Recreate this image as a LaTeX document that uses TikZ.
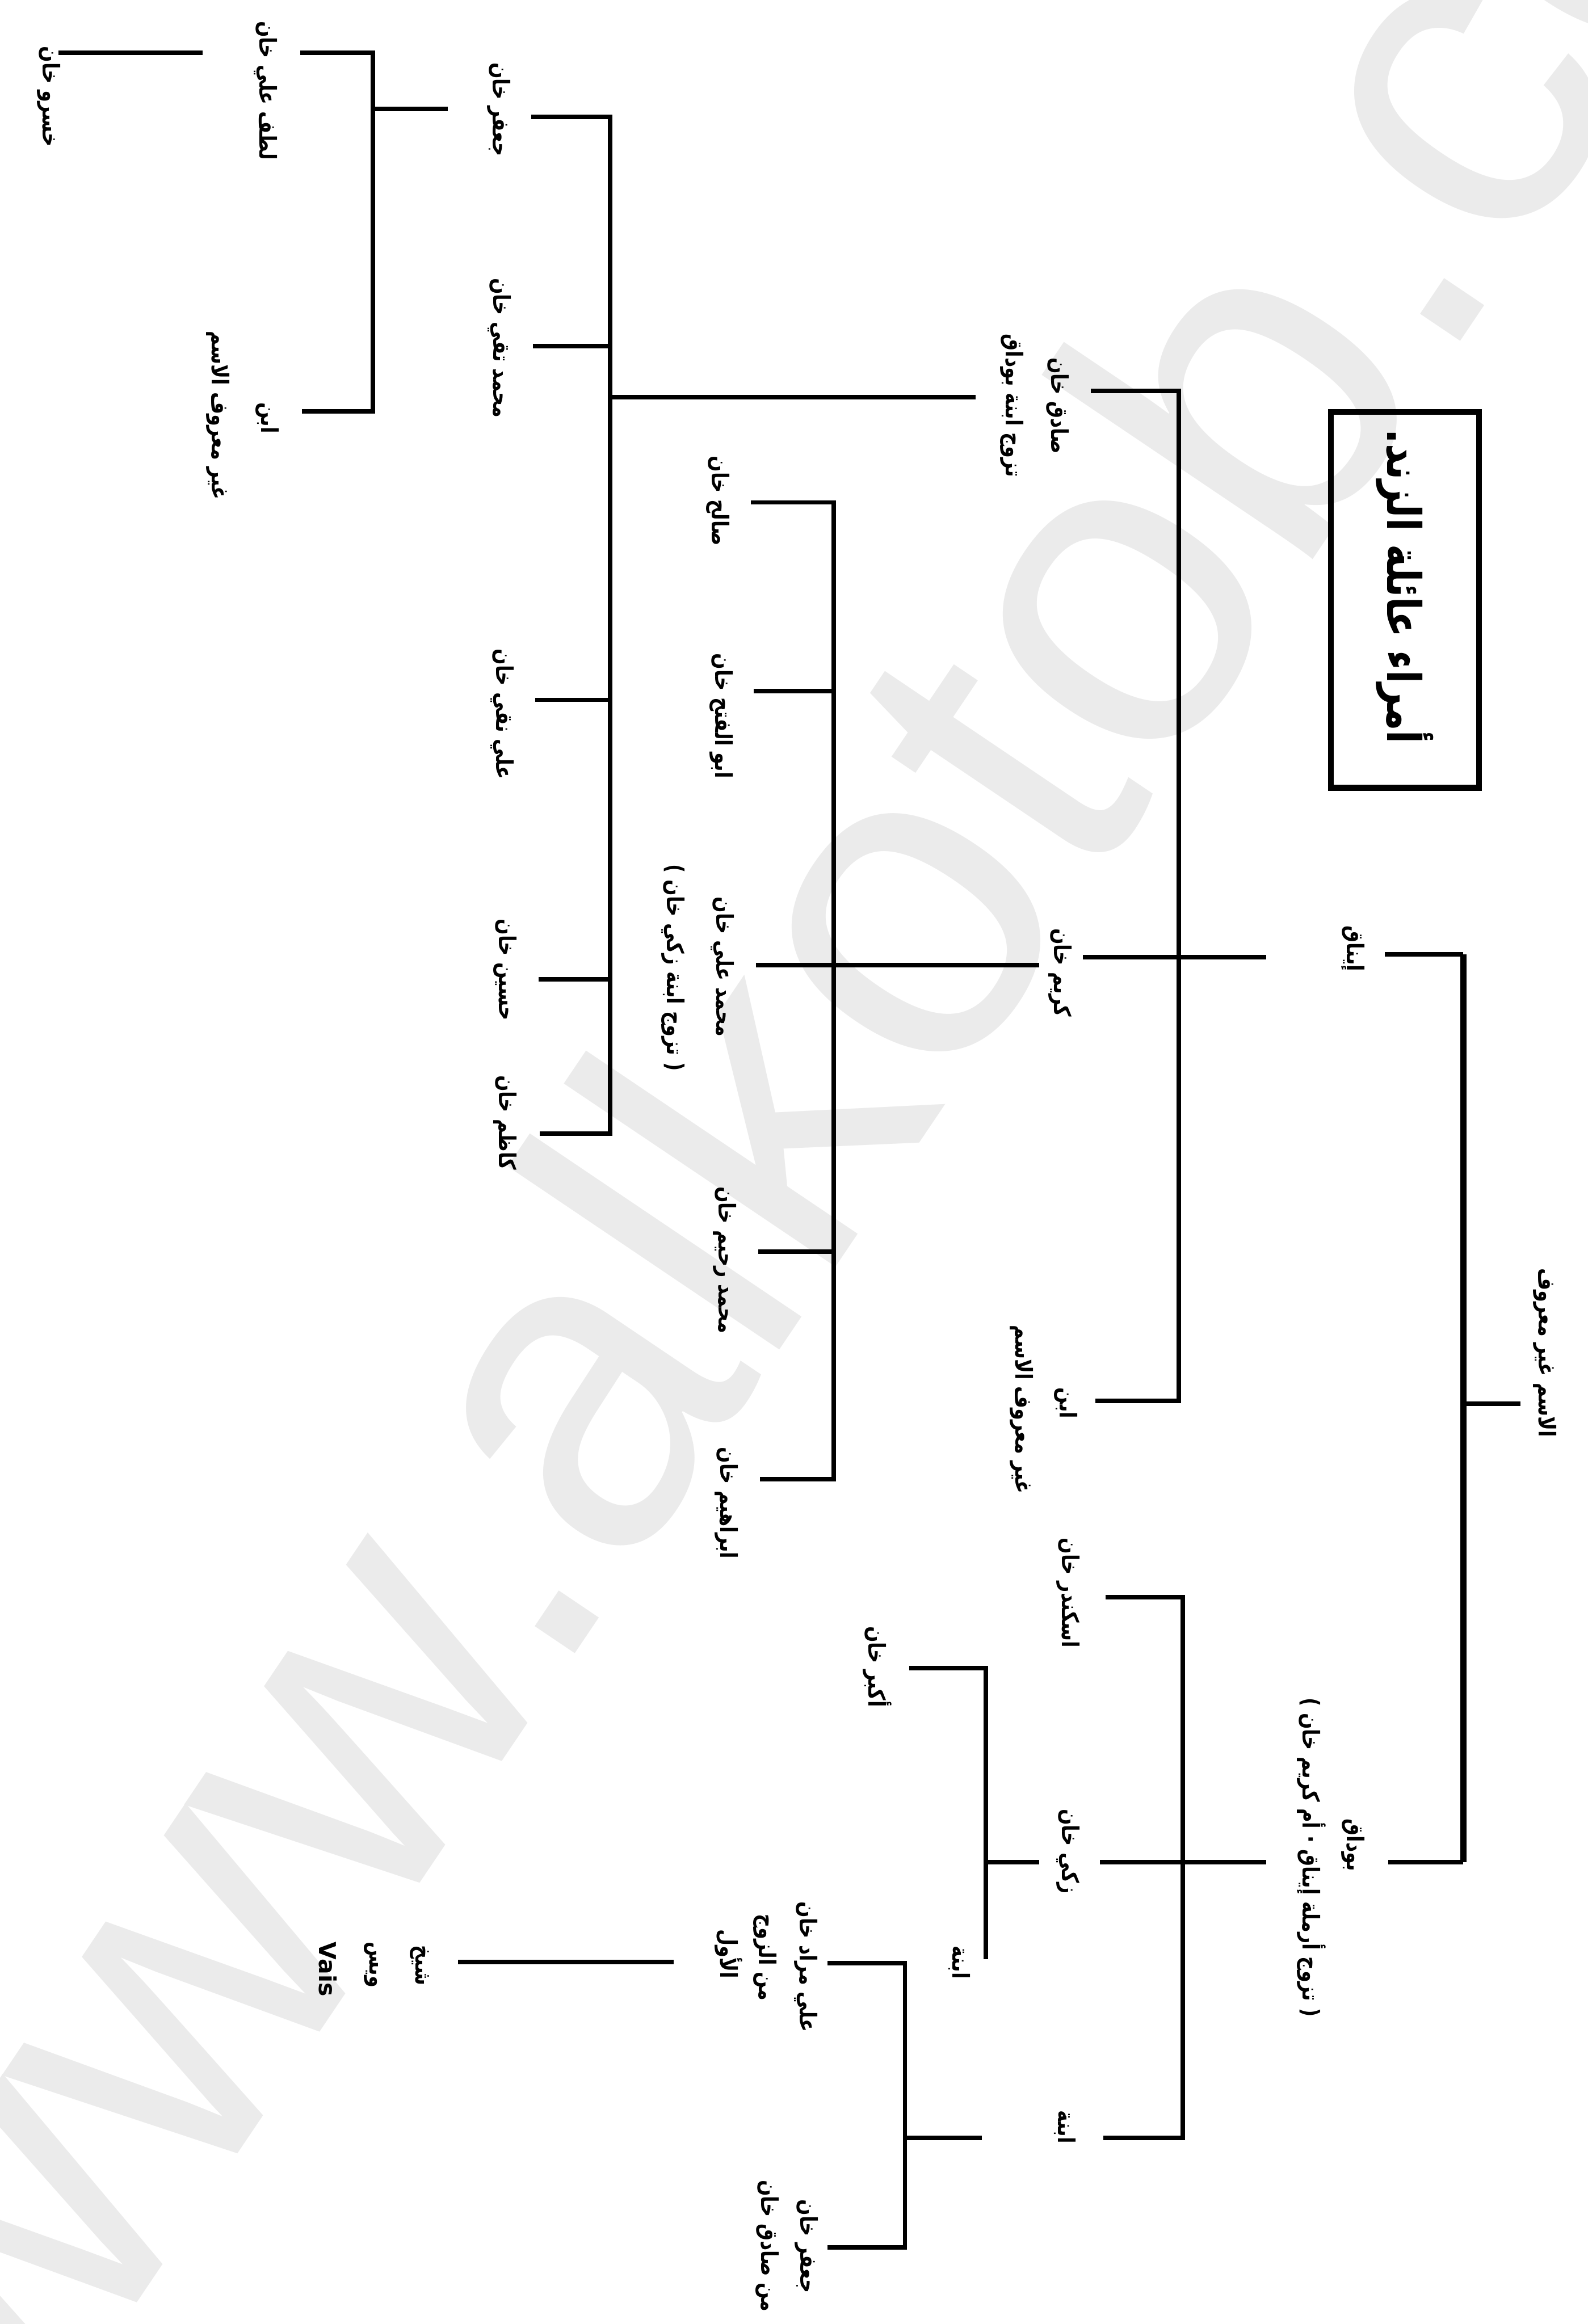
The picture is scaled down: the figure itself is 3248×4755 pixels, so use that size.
\documentclass[tikz,border=0pt]{standalone}
\usepackage{fontspec}
\setmainfont{DejaVu Sans}
\newfontfamily\arabicfont[Script=Arabic, FakeStretch=0.82]{DejaVu Sans}
\newfontfamily\wmfont{Liberation Sans}
\TeXXeTstate=1
\newcommand{\arx}[1]{\beginR #1\endR}
\begin{document}
\begin{tikzpicture}[x=0.2pt,y=-0.2pt,
  ln/.style={line width=1.8pt, line cap=butt, line join=miter},
  thk/.style={line width=2.5pt, line cap=butt, line join=miter},
  lab/.style={rotate=-90, inner sep=0pt, font=\arabicfont\bfseries\fontsize{9.5}{11}\selectfont},
  ttl/.style={rotate=-90, inner sep=0pt, font=\arabicfont\bfseries\fontsize{19}{22}\selectfont},
  wm/.style={rotate=56, anchor=base west, inner sep=0pt, text=black!8, font=\wmfont\fontsize{185}{190}\selectfont}]
\useasboundingbox (0,0) rectangle (3248,4755);
\fill[white] (0,0) rectangle (3248,4755);
% watermark
\begin{scope}
\clip (0,0) rectangle (3248,4755);
\node[wm] (watermark) at (36,5073) {www.alkotob.com};
\end{scope}

% ---------- bars ----------
\coordinate (jbT) at (763,108);   \coordinate (jbB) at (763,842);
\coordinate (sbT) at (1248,239);  \coordinate (sbB) at (1248,2319);
\coordinate (kbT) at (1705,1028); \coordinate (kbB) at (1705,3026);
\coordinate (ibT) at (2411,800);  \coordinate (ibB) at (2411,2866);
\coordinate (rbT) at (2993,1953); \coordinate (rbB) at (2993,3810);
\coordinate (bbT) at (2419,3268); \coordinate (bbB) at (2419,4374);
\coordinate (zbT) at (2016,3413); \coordinate (zbB) at (2016,4009);
\coordinate (dbT) at (1851,4017); \coordinate (dbB) at (1851,4598);

% ---------- line ends ----------
\coordinate (e1a) at (120,108);   \coordinate (e1b) at (415,108);
\coordinate (e2) at (614,108);
\coordinate (e3) at (618,842);
\coordinate (e4) at (916,223);
\coordinate (e5) at (1086,239);
\coordinate (e6) at (1090,708);
\coordinate (e7) at (1095,1432);
\coordinate (e8) at (1102,2004);
\coordinate (e9) at (1104,2319);
\coordinate (e10) at (1995,813);
\coordinate (e11) at (2231,800);
\coordinate (e12) at (1536,1028);
\coordinate (e13) at (1542,1414);
\coordinate (e14a) at (1546,1975); \coordinate (e14b) at (2125,1975);
\coordinate (e15) at (1551,2561);
\coordinate (e16) at (1554,3026);
\coordinate (e17a) at (2215,1958); \coordinate (e17b) at (2590,1958);
\coordinate (e18) at (2833,1953);
\coordinate (e19) at (2240,2866);
\coordinate (e20) at (3110,2872);
\coordinate (e21) at (2839,3810);
\coordinate (e22a) at (2250,3810); \coordinate (e22b) at (2590,3810);
\coordinate (e23) at (2261,3268);
\coordinate (e24) at (2125,3810);
\coordinate (e25) at (1860,3413);
\coordinate (e26a) at (2257,4374); \coordinate (e26b) at (2008,4374);
\coordinate (e27) at (1693,4017);
\coordinate (e28) at (1693,4598);
\coordinate (e29a) at (937,4014); \coordinate (e29b) at (1378,4014);

% ---------- connectors ----------
\draw[ln] (e1a) -- (e1b);
\draw[ln] (e2) -- (jbT) -- (jbB) -- (e3);
\draw[ln] (e4 -| jbT) -- (e4);
\draw[ln] (e5) -- (sbT) -- (sbB) -- (e9);
\draw[ln] (e6) -- (e6 -| sbT);
\draw[ln] (e7) -- (e7 -| sbT);
\draw[ln] (e8) -- (e8 -| sbT);
\draw[ln] (e10 -| sbT) -- (e10);
\draw[ln] (e11) -- (ibT) -- (ibB) -- (e19);
\draw[ln] (e12) -- (kbT) -- (kbB) -- (e16);
\draw[ln] (e13) -- (e13 -| kbT);
\draw[ln] (e14a) -- (e14b);
\draw[ln] (e15) -- (e15 -| kbT);
\draw[ln] (e17a) -- (e17b);
\draw[ln] (e18) -- (rbT);
\draw[thk] (rbT) -- (rbB);
\draw[ln] (rbB) -- (e21);
\draw[ln] (e20 -| rbT) -- (e20);
\draw[ln] (e22a) -- (e22b);
\draw[ln] (e23) -- (bbT) -- (bbB) -- (e26a);
\draw[ln] (e24) -- (e24 -| zbT);
\draw[ln] (e25) -- (zbT) -- (zbB);
\draw[ln] (e26b) -- (e26b -| dbT);
\draw[ln] (e27) -- (dbT) -- (dbB) -- (e28);
\draw[ln] (e29a) -- (e29b);

% ---------- title ----------
\node[draw, line width=2.4pt, inner sep=0pt, rotate=-90,
      minimum width=153.8pt, minimum height=60.6pt] (titlebox) at (2873.5,1227.5) {};
\node[ttl] (title) at (2873,1200) {\arx{أمراء عائلة الزند.}};

% ---------- labels ----------
\node[lab] (khosrow) at (100,198) {\arx{خسرو خان}};
\node[lab] (lotf) at (543,185) {\arx{لطف علي خان}};
\node[lab] (jibn) at (547,855) {\arx{ابن}};
\node[lab] (jibnb) at (446,850) {\arx{غير معروف الاسم}};
\node[lab] (jafar) at (1020,224) {\arx{جعفر خان}};
\node[lab] (taqi) at (1022,712) {\arx{محمد تقي خان}};
\node[lab] (naqi) at (1027,1461) {\arx{علي نقي خان}};
\node[lab] (husain) at (1033,1984) {\arx{حسين خان}};
\node[lab] (kazem) at (1033,2297) {\arx{كاظم خان}};
\node[lab] (saleh) at (1469,1025) {\arx{صالح خان}};
\node[lab] (abulfath) at (1475,1465) {\arx{ابو الفتح خان}};
\node[lab] (mali) at (1478,1978) {\arx{محمد علي خان}};
\node[lab] (malinote) at (1377,1980) {\arx{( تزوج ابنة زكي خان )}};
\node[lab] (rahim) at (1482,2578) {\arx{محمد رحيم خان}};
\node[lab] (ibrahim) at (1486,3075) {\arx{ابراهيم خان}};
\node[lab] (sadiq) at (2164,830) {\arx{صادق خان}};
\node[lab] (sadiqnote) at (2070,830) {\arx{تزوج ابنة بوداق}};
\node[lab] (karim) at (2168,1990) {\arx{كريم خان}};
\node[lab] (iibn) at (2180,2871) {\arx{ابن}};
\node[lab] (iibnb) at (2090,2884) {\arx{غير معروف الاسم}};
\node[lab] (inaq) at (2768,1941) {\arx{إيناق}};
\node[lab] (root) at (3160,2768) {\arx{الاسم غير معروف}};
\node[lab] (iskandar) at (2185,3259) {\arx{اسكندر خان}};
\node[lab] (zaki) at (2185,3788) {\arx{زكي خان}};
\node[lab] (budaq) at (2768,3775) {\arx{بوداق}};
\node[lab] (budaqnote) at (2683,3800) {\arx{( تزوج أرملة إيناق · أم كريم خان )}};
\node[lab] (akbar) at (1794,3410) {\arx{أكبر خان}};
\node[lab] (zdau) at (1963,4015) {\arx{ابنة}};
\node[lab] (bdau) at (2178,4352) {\arx{ابنة}};
\node[lab] (alimorad) at (1648,4024) {\arx{علي مراد خان}};
\node[lab] (alimoradb) at (1565,4005) {\arx{من الزوج}};
\node[lab] (alimoradc) at (1490,3998) {\arx{الأول}};
\node[lab] (jafarb) at (1650,4596) {\arx{جعفر خان}};
\node[lab] (jafarbb) at (1569,4595) {\arx{من صادق خان}};
\node[lab] (shaikh) at (859,4021) {\arx{شيخ}};
\node[lab] (vays) at (759,4020) {\arx{ويس}};
\node[rotate=-90, inner sep=0pt, font=\bfseries\fontsize{9.5}{11}\selectfont] (vais) at (671,4029) {Vais};
\end{tikzpicture}
\end{document}
